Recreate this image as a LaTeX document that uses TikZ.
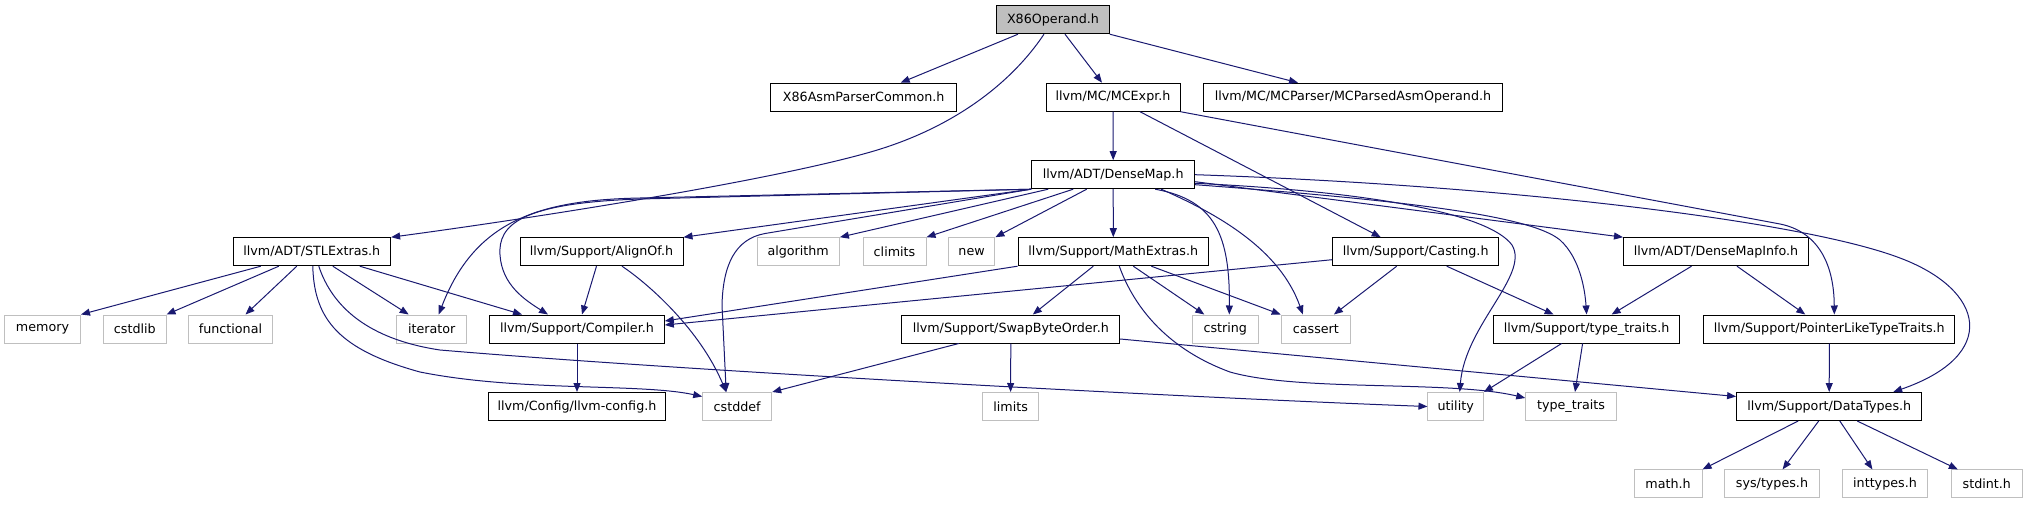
\documentclass[tikz,border=0pt]{standalone}
\usepackage{fontspec}
\setmainfont{DejaVu Sans}
\usetikzlibrary{arrows.meta}
\definecolor{edgec}{HTML}{191970}
\definecolor{grayb}{HTML}{BFBFBF}
\begin{document}
\begin{tikzpicture}[x=1pt,y=-1pt,
  box/.style={draw, line width=1pt, minimum height=28pt, inner sep=0pt, font=\fontsize{12.7pt}{14pt}\selectfont, text=black},
  doc/.style={box, draw=black},
  ext/.style={box, draw=grayb},
  root/.style={box, draw=black, fill=grayb},
  e/.style={draw=edgec, line width=1pt, -{Triangle[length=9pt,width=7pt]}}]
\useasboundingbox (0,0) rectangle (2027,504);
% row 0
\node[root, minimum width=112.5pt] (x86) at (1053,19.7) {X86Operand.h};
% row 1
\node[doc, minimum width=186pt] (asm) at (863.7,97.2) {X86AsmParserCommon.h};
\node[doc, minimum width=134pt] (mcexpr) at (1113,97.2) {llvm/MC/MCExpr.h};
\node[doc, minimum width=299pt] (mcparsed) at (1353,97.2) {llvm/MC/MCParser/MCParsedAsmOperand.h};
% row 2
\node[doc, minimum width=163pt] (dm) at (1113.2,174.7) {llvm/ADT/DenseMap.h};
% row 3
\node[doc, minimum width=157.6pt] (stl) at (311.8,251.7) {llvm/ADT/STLExtras.h};
\node[doc, minimum width=163pt] (alignof) at (601.5,251.7) {llvm/Support/AlignOf.h};
\node[ext, minimum width=82.4pt] (algorithm) at (798.2,251.7) {algorithm};
\node[ext, minimum width=63pt] (climits) at (894.5,251.7) {climits};
\node[ext, minimum width=46.5pt] (new) at (971.6,251.7) {new};
\node[doc, minimum width=190.6pt] (mathx) at (1113.3,251.7) {llvm/Support/MathExtras.h};
\node[doc, minimum width=166pt] (casting) at (1415.7,251.7) {llvm/Support/Casting.h};
\node[doc, minimum width=185pt] (dmi) at (1716,251.7) {llvm/ADT/DenseMapInfo.h};
% row 4
\node[ext, minimum width=76pt] (memory) at (42.5,329) {memory};
\node[ext, minimum width=62.4pt] (cstdlib) at (134.8,329) {cstdlib};
\node[ext, minimum width=83.5pt] (functional) at (230.5,329) {functional};
\node[ext, minimum width=70pt] (iterator) at (431.7,329) {iterator};
\node[doc, minimum width=174.6pt] (compiler) at (577,329) {llvm/Support/Compiler.h};
\node[doc, minimum width=217.8pt] (swap) at (1010.8,329) {llvm/Support/SwapByteOrder.h};
\node[ext, minimum width=65.4pt] (cstring) at (1225.3,329) {cstring};
\node[ext, minimum width=69.4pt] (cassert) at (1315.9,329) {cassert};
\node[doc, minimum width=186.7pt] (tth) at (1586.6,329) {llvm/Support/type\_traits.h};
\node[doc, minimum width=250.8pt] (pltt) at (1829.3,329) {llvm/Support/PointerLikeTypeTraits.h};
% row 5
\node[doc, minimum width=177.2pt] (llvmconfig) at (577,406.5) {llvm/Config/llvm-config.h};
\node[ext, minimum width=69pt] (cstddef) at (737.2,406.5) {cstddef};
\node[ext, minimum width=55.8pt] (limits) at (1010.6,406.5) {limits};
\node[ext, minimum width=55.5pt] (utility) at (1455.7,406.5) {utility};
\node[ext, minimum width=90.5pt] (typetraits) at (1571,406.5) {type\_traits};
\node[doc, minimum width=185.2pt] (datatypes) at (1829.2,406.5) {llvm/Support/DataTypes.h};
% row 6
\node[ext, minimum width=68pt] (math) at (1668,483.9) {math.h};
\node[ext, minimum width=94.2pt] (systypes) at (1772,483.9) {sys/types.h};
\node[ext, minimum width=84.6pt] (inttypes) at (1885,483.9) {inttypes.h};
\node[ext, minimum width=71pt] (stdint) at (1986.8,483.9) {stdint.h};

% X86Operand.h
\draw[e] ([xshift=-35pt]x86.south) -- ([xshift=37pt]asm.north);
\draw[e] ([xshift=12pt]x86.south) -- ([xshift=-11pt]mcexpr.north);
\draw[e] (x86.south east) -- ([xshift=-55pt]mcparsed.north);
\draw[e] ([xshift=-9pt]x86.south) .. controls (1010,85) and (950,130) .. (867,153)
  .. controls (760,183) and (520,220) .. (stl.north east);
% MCExpr.h
\draw[e] (mcexpr.south) -- (dm.north);
\draw[e] ([xshift=27pt]mcexpr.south) -- ([xshift=-35pt]casting.north);
\draw[e] (mcexpr.south east) -- (1780,224) .. controls (1815,231) and (1834,260) .. ([xshift=5pt]pltt.north);
% DenseMap.h
\draw[e] (dm.south) -- (mathx.north);
\draw[e] (dm.south west) -- (alignof.north east);
\draw[e] ([xshift=-65pt]dm.south) -- (algorithm.north east);
\draw[e] ([xshift=-40pt]dm.south) -- (climits.north east);
\draw[e] ([xshift=-26.5pt]dm.south) -- (new.north east);
\draw[e] (dm.south west) -- (640,198) .. controls (540,200) and (475,220) .. ([xshift=7pt]iterator.north);
\draw[e] (dm.south west) -- (640,199) .. controls (520,203) and (498,225) .. (500,255)
  .. controls (502,285) and (525,300) .. ([xshift=-29pt]compiler.north);
\draw[e] (dm.south west) -- (765,233.5) .. controls (735,239) and (723,265) .. (722,305) -- ([xshift=-11pt]cstddef.north);
\draw[e] ([xshift=42pt]dm.south) .. controls (1215,200) and (1230,235) .. ([xshift=4pt]cstring.north);
\draw[e] ([xshift=48pt]dm.south) .. controls (1220,215) and (1280,250) .. ([xshift=-13pt]cassert.north);
\draw[e] ([yshift=-7pt]dm.east) -- (dmi.north west);
\draw[e] ([yshift=-8.6pt]dm.east) .. controls (1380,192) and (1490,215) .. (1512,245)
  .. controls (1530,275) and (1465,325) .. ([xshift=4pt]utility.north);
\draw[e] ([yshift=-10pt]dm.east) .. controls (1400,200) and (1530,215) .. (1560,240)
  .. controls (1580,258) and (1585,290) .. (tth.north);
\draw[e] (dm.east) .. controls (1500,185) and (1800,220) .. (1900,258)
  .. controls (1985,290) and (2000,355) .. ([xshift=64pt]datatypes.north);
% STLExtras.h
\draw[e] ([xshift=-51pt]stl.south) -- (memory.north east);
\draw[e] ([xshift=-33pt]stl.south) -- (cstdlib.north east);
\draw[e] ([xshift=-15pt]stl.south) -- ([xshift=15pt]functional.north);
\draw[e] ([xshift=21pt]stl.south) -- ([xshift=-23pt]iterator.north);
\draw[e] ([xshift=48pt]stl.south) -- ([xshift=-55pt]compiler.north);
\draw[e] ([xshift=1pt]stl.south) .. controls (314,320) and (340,350) .. (420,372)
  .. controls (520,392) and (640,383) .. ([yshift=10pt]cstddef.west);
\draw[e] ([xshift=7pt]stl.south) .. controls (330,300) and (360,338) .. (440,350)
  .. controls (700,372) and (1200,398) .. (utility.west);
% AlignOf.h
\draw[e] ([xshift=-5pt]alignof.south) -- ([xshift=5pt]compiler.north);
\draw[e] ([xshift=20.5pt]alignof.south) .. controls (650,285) and (700,330) .. ([xshift=-11pt]cstddef.north);
% Compiler.h
\draw[e] (compiler.south) -- (llvmconfig.north);
% MathExtras.h
\draw[e] (mathx.south west) -- ([yshift=8pt]compiler.east);
\draw[e] ([xshift=-20pt]mathx.south) -- ([xshift=22pt]swap.north);
\draw[e] ([xshift=20pt]mathx.south) -- ([xshift=-21pt]cstring.north);
\draw[e] ([xshift=38pt]mathx.south) -- (cassert.north west);
\draw[e] ([xshift=6pt]mathx.south) .. controls (1135,310) and (1170,350) .. (1230,372)
  .. controls (1300,392) and (1450,380) .. ([yshift=8.5pt]typetraits.west);
% SwapByteOrder.h
\draw[e] ([xshift=-52pt]swap.south) -- (cstddef.north east);
\draw[e] (swap.south) -- (limits.north);
\draw[e] ([yshift=-10pt]swap.east) -- ([yshift=10pt]datatypes.west);
% Casting.h
\draw[e] ([yshift=-8pt]casting.west) -- ([yshift=4pt]compiler.east);
\draw[e] ([xshift=-19pt]casting.south) -- ([xshift=18pt]cassert.north);
\draw[e] ([xshift=31pt]casting.south) -- ([xshift=-33pt]tth.north);
% DenseMapInfo.h
\draw[e] ([xshift=-24.5pt]dmi.south) -- ([xshift=25pt]tth.north);
\draw[e] ([xshift=21pt]dmi.south) -- ([xshift=-24pt]pltt.north);
% type_traits.h
\draw[e] ([xshift=-25pt]tth.south) -- (utility.north east);
\draw[e] ([xshift=-4pt]tth.south) -- ([xshift=4pt]typetraits.north);
% PointerLikeTypeTraits.h
\draw[e] (pltt.south) -- (datatypes.north);
% DataTypes.h
\draw[e] ([xshift=-31pt]datatypes.south) -- (math.north east);
\draw[e] ([xshift=-10.5pt]datatypes.south) -- ([xshift=10.6pt]systypes.north);
\draw[e] ([xshift=10.6pt]datatypes.south) -- ([xshift=-12.6pt]inttypes.north);
\draw[e] ([xshift=28pt]datatypes.south) -- ([xshift=-29pt]stdint.north);
\end{tikzpicture}
\end{document}
